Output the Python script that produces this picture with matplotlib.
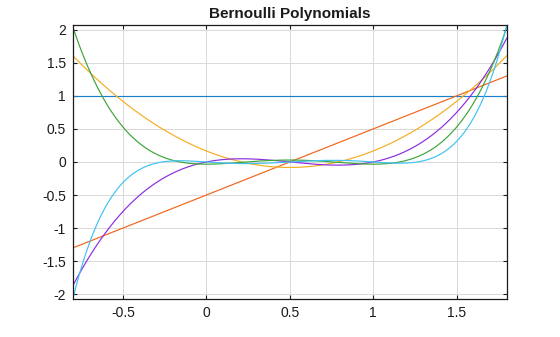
import numpy as np
import matplotlib
matplotlib.use("Agg")
import matplotlib.pyplot as plt

plt.rcParams['font.family'] = ['Liberation Sans', 'DejaVu Sans']

# Bernoulli polynomial coefficients B0..B5 (highest power first)
b0 = [1.0]
b1 = [1.0, -0.5]
b2 = [1.0, -1.0, 1.0 / 6]
b3 = [1.0, -1.5, 0.5, 0.0]
b4 = [1.0, -2.0, 1.0, 0.0, -1.0 / 30]
b5 = [1.0, -2.5, 5.0 / 3, 0.0, -1.0 / 6, 0.0]
coeffs = [b0, b1, b2, b3, b4, b5]

x_range = [-0.8, 1.8]
xticks = [-0.5, 0, 0.5, 1, 1.5]
yticks = [-2, -1.5, -1, -0.5, 0, 0.5, 1, 1.5, 2]
ytick_labels = ['-2', '-1.5', '-1', '-0.5', '0', '0.5', '1', '1.5', '2']
xtick_labels = ['-0.5', '0', '0.5', '1', '1.5']

colors = ['#1a80cc', '#f26419', '#f5ad1f', '#8c2be0', '#3da43a', '#3fc2f2']

fig = plt.figure(figsize=(5.6, 3.37), dpi=100)
ax = fig.add_axes([0.13, 0.1128, 0.775, 0.8132])

x = np.linspace(x_range[0], x_range[1], 500)
ymin, ymax = 0, 0
for c, col in zip(coeffs, colors):
    y = np.polyval(c, x) * np.ones_like(x)
    ax.plot(x, y, color=col, lw=0.85)
    ymin = min(ymin, y.min())
    ymax = max(ymax, y.max())

ax.set_xlim(x_range)
ax.set_ylim(ymin, ymax)
ax.set_xticks(xticks)
ax.set_xticklabels(xtick_labels)
ax.set_yticks(yticks)
ax.set_yticklabels(ytick_labels)
ax.grid(True, color='#d9d9d9', lw=0.7)
ax.set_axisbelow(True)
ax.tick_params(direction='in', length=3, width=0.8, labelsize=10, colors='#1a1a1a',
               top=True, right=True, pad=5)
for s in ax.spines.values():
    s.set_linewidth(0.9)
    s.set_color('#1a1a1a')
ax.set_title('Bernoulli Polynomials', fontsize=11, fontweight='bold', color='#1a1a1a', pad=5)

fig.savefig('out.png', dpi=100)
